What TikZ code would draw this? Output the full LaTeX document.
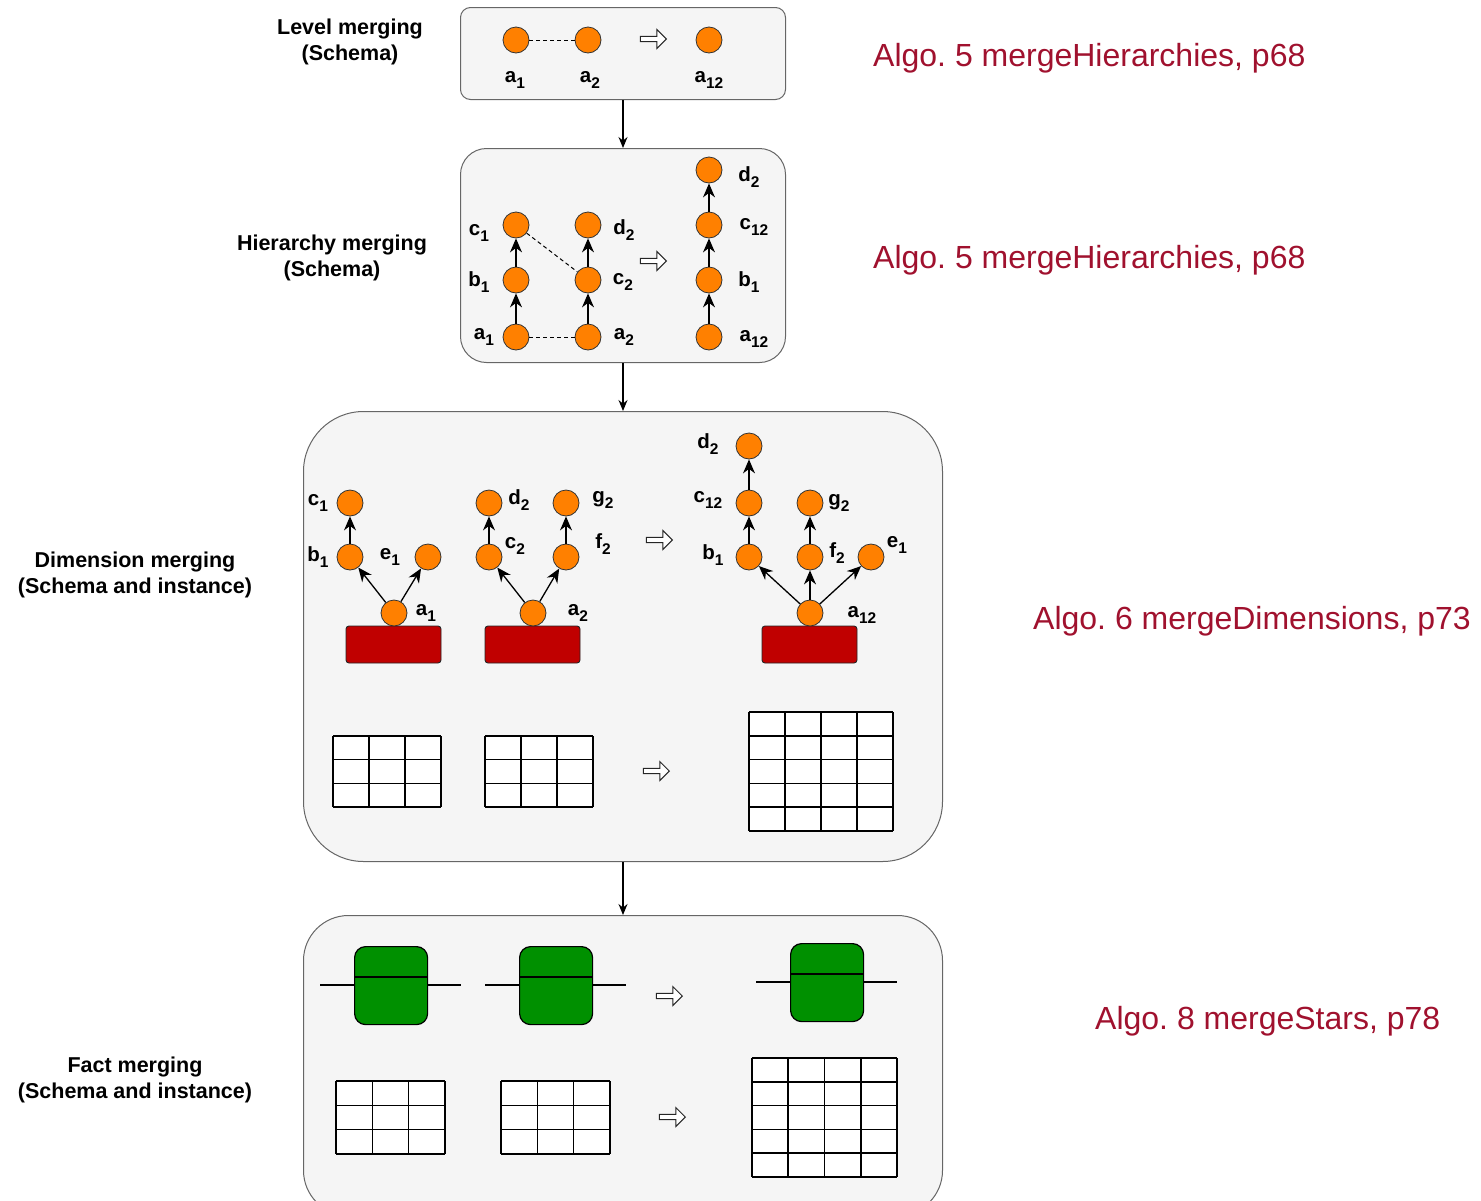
\documentclass[tikz,border=0pt]{standalone}
\usepackage{fontspec}
\setmainfont{Liberation Sans}
\frenchspacing
\usetikzlibrary{arrows.meta,shapes.arrows}
\definecolor{boxfill}{HTML}{F5F5F5}
\definecolor{boxline}{HTML}{666666}
\definecolor{orng}{HTML}{FF8000}
\definecolor{dimred}{HTML}{C00000}
\definecolor{factgreen}{HTML}{009000}
\definecolor{algored}{HTML}{A0112E}
\newcommand{\sbs}[1]{\raisebox{-0.28em}{\fontsize{15.5}{16}\selectfont #1}}
\tikzset{
  panel/.style={draw=boxline, fill=boxfill, line width=1pt},
  lvl/.style={circle, draw=black!80, fill=orng, minimum size=26pt, inner sep=0pt, line width=0.8pt},
  lab/.style={font=\bfseries\fontsize{20.5}{22}\selectfont, inner sep=0pt},
  side/.style={font=\bfseries\fontsize{21.5}{26.5}\selectfont, align=center, inner sep=0pt},
  algo/.style={font=\fontsize{32}{34}\selectfont, text=algored, inner sep=0pt, anchor=west},
  up/.style={-{Stealth[length=14pt,width=12pt]}, line width=1.3pt},
  flow/.style={-{Stealth[length=11pt,width=9pt]}, line width=1.3pt},
  same/.style={line width=1pt, dash pattern=on 4pt off 3pt},
  hollow/.style={single arrow, draw=black!85, fill=white, line width=1pt, minimum height=26pt, minimum width=19pt, single arrow head extend=4pt, single arrow head indent=0pt, inner sep=1pt},
  dimtab/.style={draw=black!85, fill=dimred, rounded corners=3pt, line width=0.9pt},
  fact/.style={draw=black, fill=factgreen, rounded corners=11pt, line width=1.2pt},
  tline/.style={line width=1.6pt}
}
\newcommand{\mytable}[6]{% x1 y1 x2 y2 cols rows
  \fill[white] (#1,#2) rectangle (#3,#4);
  \foreach \i in {0,...,#5} {\draw[tline] ({#1+(#3-#1)*\i/#5},#2) -- ({#1+(#3-#1)*\i/#5},#4);}
  \foreach \j in {0,...,#6} {\draw[tline] (#1,{#2+(#4-#2)*\j/#6}) -- (#3,{#2+(#4-#2)*\j/#6});}
}
\newcommand{\myfact}[5]{% name x1 y1 x2 y2
  \node[fact, minimum width={(#4-#2)*1pt}, minimum height={(#5-#3)*1pt}, anchor=north west, inner sep=0pt] (#1) at (#2,#3) {};
  \draw[line width=1.6pt] (#2,{#3+31}) -- (#4,{#3+31});
  \draw[line width=1.3pt] ({#2-34},{#3+39}) -- (#2,{#3+39});
  \draw[line width=1.3pt] (#4,{#3+39}) -- ({#4+34},{#3+39});
}
\begin{document}
\begin{tikzpicture}[x=1pt,y=-1pt]
\useasboundingbox (0,0) rectangle (1481,1200);

% panels
\node[panel, rounded corners=10pt, minimum width=325pt, minimum height=92pt, anchor=north west, inner sep=0pt] (p1) at (460,7) {};
\node[panel, rounded corners=26pt, minimum width=325pt, minimum height=214pt, anchor=north west, inner sep=0pt] (p2) at (460,148) {};
\node[panel, rounded corners=60pt, minimum width=639pt, minimum height=450pt, anchor=north west, inner sep=0pt] (p3) at (303,411) {};
\node[panel, rounded corners=45pt, minimum width=639pt, minimum height=300pt, anchor=north west, inner sep=0pt] (p4) at (303,915) {};

\draw[flow] (p1.south) -- (p2.north);
\draw[flow] (p2.south) -- (p3.north);
\draw[flow] (p3.south) -- (p4.north);

% side labels
\node[side] (s1) at (350,42) {Level merging\\(Schema)};
\node[side] (s2) at (332,258) {Hierarchy merging\\(Schema)};
\node[side] (s3) at (135,575) {Dimension merging\\(Schema and instance)};
\node[side] (s4) at (135,1080) {Fact merging\\(Schema and instance)};

% algo labels
\node[algo] (g1) at (873,58) {Algo. 5 mergeHierarchies, p68};
\node[algo] (g2) at (873,260) {Algo. 5 mergeHierarchies, p68};
\node[algo] (g3) at (1033,621) {Algo. 6 mergeDimensions, p73};
\node[algo] (g4) at (1095,1021) {Algo. 8 mergeStars, p78};

% ---- panel 1
\node[lvl] (la1) at (516,40) {};
\node[lvl] (la2) at (588,40) {};
\node[lvl] (la12) at (709,40) {};
\draw[same] (la1) -- (la2);
\node[hollow] (h1) at (652,39) {};
\node[lab] (tla1) at (515,80) {a\sbs{1}};
\node[lab] (tla2) at (590,80) {a\sbs{2}};
\node[lab] (tla12) at (709,80) {a\sbs{12}};

% ---- panel 2
\node[lvl] (ha1) at (516,337) {};
\node[lvl] (hb1) at (516,280) {};
\node[lvl] (hc1) at (516,225) {};
\node[lvl] (ha2) at (588,337) {};
\node[lvl] (hc2) at (588,280) {};
\node[lvl] (hd2) at (588,225) {};
\node[lvl] (ra12) at (709,337) {};
\node[lvl] (rb1) at (709,280) {};
\node[lvl] (rc12) at (709,225) {};
\node[lvl] (rd2) at (709,170) {};
\draw[up] (ha1) -- (hb1);
\draw[up] (hb1) -- (hc1);
\draw[up] (ha2) -- (hc2);
\draw[up] (hc2) -- (hd2);
\draw[up] (ra12) -- (rb1);
\draw[up] (rb1) -- (rc12);
\draw[up] (rc12) -- (rd2);
\draw[same] (ha1) -- (ha2);
\draw[same] (hc1) -- (hc2);
\node[hollow] (h2) at (652,261) {};
\node[lab] (thc1) at (479,233) {c\sbs{1}};
\node[lab] (thb1) at (479,282) {b\sbs{1}};
\node[lab] (tha1) at (484,337) {a\sbs{1}};
\node[lab] (thd2) at (624,230) {d\sbs{2}};
\node[lab] (thc2) at (623,282) {c\sbs{2}};
\node[lab] (tha2) at (624,337) {a\sbs{2}};
\node[lab] (trd2) at (749,177) {d\sbs{2}};
\node[lab] (trc12) at (754,227) {c\sbs{12}};
\node[lab] (trb1) at (749,282) {b\sbs{1}};
\node[lab] (tra12) at (754,339) {a\sbs{12}};

% ---- panel 3 schema
\node[dimtab, minimum width=95pt, minimum height=37pt, inner sep=0pt] (dt1) at (393.5,644.5) {};
\node[dimtab, minimum width=95pt, minimum height=37pt, inner sep=0pt] (dt2) at (532.5,644.5) {};
\node[dimtab, minimum width=95pt, minimum height=37pt, inner sep=0pt] (dt3) at (809.5,644.5) {};

\node[lvl] (da1) at (394,613) {};
\node[lvl] (db1) at (350,557) {};
\node[lvl] (dc1) at (350,503) {};
\node[lvl] (de1) at (428,557) {};
\draw[up] (da1) -- (db1);
\draw[up] (da1) -- (de1);
\draw[up] (db1) -- (dc1);
\node[lab] (tdc1) at (318,503) {c\sbs{1}};
\node[lab] (tdb1) at (318,557) {b\sbs{1}};
\node[lab] (tde1) at (390,557) {e\sbs{1}};
\node[lab] (tda1) at (426,613) {a\sbs{1}};

\node[lvl] (ea2) at (533,613) {};
\node[lvl] (ec2) at (489,557) {};
\node[lvl] (ed2) at (489,503) {};
\node[lvl] (ef2) at (566,557) {};
\node[lvl] (eg2) at (566,503) {};
\draw[up] (ea2) -- (ec2);
\draw[up] (ea2) -- (ef2);
\draw[up] (ec2) -- (ed2);
\draw[up] (ef2) -- (eg2);
\node[lab] (ted2) at (519,500) {d\sbs{2}};
\node[lab] (tec2) at (515,546) {c\sbs{2}};
\node[lab] (teg2) at (603,500) {g\sbs{2}};
\node[lab] (tef2) at (603,544) {f\sbs{2}};
\node[lab] (tea2) at (578,613) {a\sbs{2}};

\node[hollow] (h3) at (658,540) {};

\node[lvl] (fa12) at (810,613) {};
\node[lvl] (fb1) at (749,557) {};
\node[lvl] (fc12) at (749,503) {};
\node[lvl] (fd2) at (749,446) {};
\node[lvl] (ff2) at (810,557) {};
\node[lvl] (fg2) at (810,503) {};
\node[lvl] (fe1) at (871,557) {};
\draw[up] (fa12) -- (fb1);
\draw[up] (fa12) -- (ff2);
\draw[up] (fa12) -- (fe1);
\draw[up] (fb1) -- (fc12);
\draw[up] (fc12) -- (fd2);
\draw[up] (ff2) -- (fg2);
\node[lab] (tfd2) at (708,444) {d\sbs{2}};
\node[lab] (tfc12) at (708,500) {c\sbs{12}};
\node[lab] (tfb1) at (713,555) {b\sbs{1}};
\node[lab] (tfg2) at (839,503) {g\sbs{2}};
\node[lab] (tff2) at (837,553) {f\sbs{2}};
\node[lab] (tfe1) at (897,545) {e\sbs{1}};
\node[lab] (tfa12) at (862,615) {a\sbs{12}};

% panel 3 instance tables
\mytable{333}{736}{441}{807}{3}{3}
\mytable{485}{736}{593}{807}{3}{3}
\node[hollow] (h4) at (655,771) {};
\mytable{749}{712}{893}{831}{4}{5}

% ---- panel 4
\myfact{fa}{354}{946}{427}{1024}
\myfact{fb}{519}{946}{592}{1024}
\node[hollow] (h5) at (668,996) {};
\myfact{fc}{790}{943}{863}{1021}

\mytable{336}{1081}{445}{1154}{3}{3}
\mytable{501}{1081}{610}{1154}{3}{3}
\node[hollow] (h6) at (671,1117) {};
\mytable{752}{1058}{897}{1177}{4}{5}
\end{tikzpicture}
\end{document}
